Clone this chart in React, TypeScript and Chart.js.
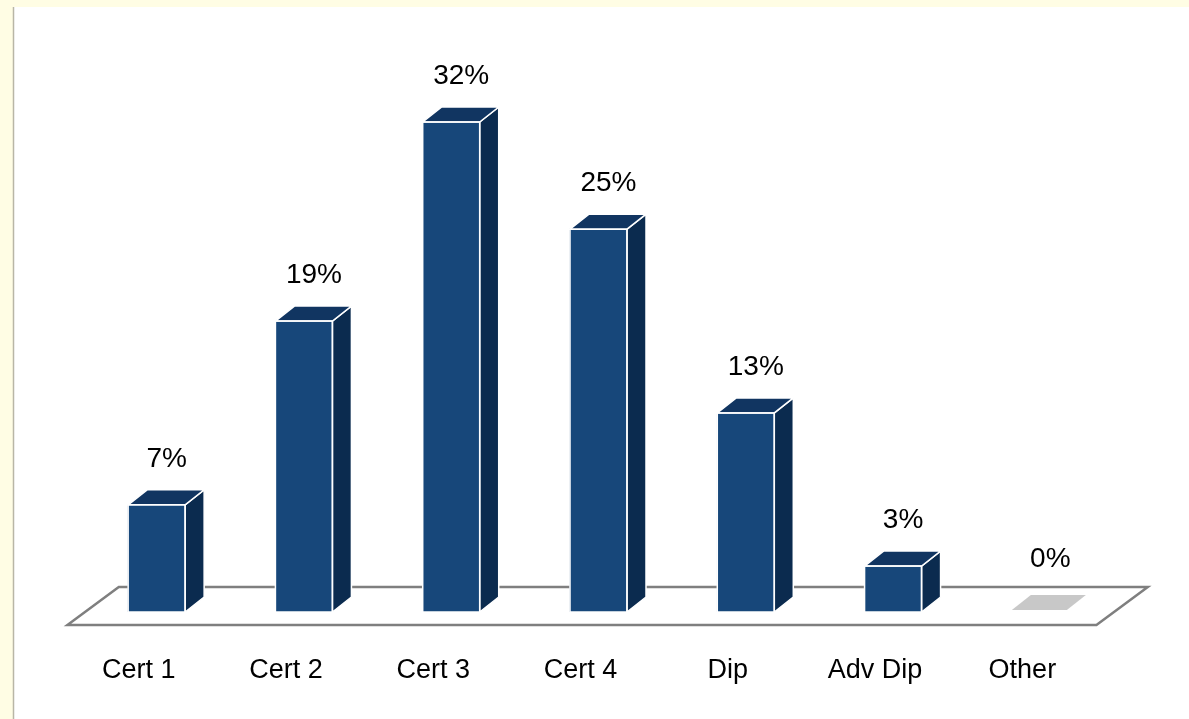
import React, { useEffect, useRef } from "react";
import { Chart, registerables } from "chart.js";

Chart.register(...registerables);

const categories = ["Cert 1", "Cert 2", "Cert 3", "Cert 4", "Dip", "Adv Dip", "Other"];
const values = [7, 19, 32, 25, 13, 3, 0];
const valueLabels = ["7%", "19%", "32%", "25%", "13%", "3%", "0%"];

const FRONT = "#17477A";
const SIDE = "#0B2B4F";
const TOP = "#113561";
const ZERO_TOP = "#C8C8C8";
const FONT = '"Liberation Sans", Arial, sans-serif';

const DEPTH_X = 19;
const DEPTH_Y = 15;

const threeD = {
  id: "threeD",
  beforeDraw(chart: any) {
    const { ctx, width, height } = chart;
    ctx.save();
    ctx.fillStyle = "#FFFDE4";
    ctx.fillRect(0, 0, width, height);
    ctx.fillStyle = "#FFFFFF";
    ctx.fillRect(14, 7, width - 14, height - 7);
    ctx.strokeStyle = "#B9B6A6";
    ctx.lineWidth = 1.5;
    ctx.beginPath();
    ctx.moveTo(13.5, 7);
    ctx.lineTo(13.5, height);
    ctx.stroke();
    ctx.restore();
  },
  beforeDatasetsDraw(chart: any) {
    const { ctx } = chart;
    const xs = chart.scales.x;
    const ys = chart.scales.y;
    const base = ys.getPixelForValue(0);
    const k = 50 / 37;
    const fy = base + 13;
    const by = base - 25;
    const l = xs.left + 2;
    const r = xs.right;
    ctx.save();
    ctx.strokeStyle = "#7F7F7F";
    ctx.lineWidth = 2.5;
    ctx.lineJoin = "miter";
    ctx.beginPath();
    ctx.moveTo(l - 13 * k, fy);
    ctx.lineTo(r - 13 * k, fy);
    ctx.lineTo(r + 25 * k, by);
    ctx.lineTo(l + 25 * k, by);
    ctx.closePath();
    ctx.stroke();
    ctx.restore();
  },
  afterDatasetsDraw(chart: any) {
    const { ctx } = chart;
    const meta = chart.getDatasetMeta(0);
    const xs = chart.scales.x;
    ctx.save();
    meta.data.forEach((bar: any, i: number) => {
      const half = bar.width / 2;
      const x0 = bar.x - half;
      const x1 = bar.x + half;
      const top = bar.y;
      const base = bar.base;
      ctx.lineWidth = 1.5;
      ctx.strokeStyle = "#FFFFFF";
      if (values[i] > 0) {
        ctx.beginPath();
        ctx.moveTo(x1, top);
        ctx.lineTo(x1 + DEPTH_X, top - DEPTH_Y);
        ctx.lineTo(x1 + DEPTH_X, base - DEPTH_Y);
        ctx.lineTo(x1, base);
        ctx.closePath();
        ctx.fillStyle = SIDE;
        ctx.fill();
        ctx.stroke();
        ctx.beginPath();
        ctx.moveTo(x0, top);
        ctx.lineTo(x0 + DEPTH_X, top - DEPTH_Y);
        ctx.lineTo(x1 + DEPTH_X, top - DEPTH_Y);
        ctx.lineTo(x1, top);
        ctx.closePath();
        ctx.fillStyle = TOP;
        ctx.fill();
        ctx.stroke();
        ctx.strokeRect(x0, top, bar.width, base - top);
      } else {
        ctx.beginPath();
        ctx.moveTo(x0, base - 2);
        ctx.lineTo(x0 + DEPTH_X, base - 2 - DEPTH_Y);
        ctx.lineTo(x1 + DEPTH_X - 2, base - 2 - DEPTH_Y);
        ctx.lineTo(x1 - 2, base - 2);
        ctx.closePath();
        ctx.fillStyle = ZERO_TOP;
        ctx.fill();
      }
      ctx.fillStyle = "#000000";
      ctx.font = `28px ${FONT}`;
      ctx.textAlign = "center";
      ctx.textBaseline = "alphabetic";
      const labelBase = values[i] > 0 ? top - DEPTH_Y - 23 : base - DEPTH_Y - 30;
      ctx.fillText(valueLabels[i], bar.x + 10, labelBase);
    });
    ctx.fillStyle = "#000000";
    ctx.font = `27px ${FONT}`;
    ctx.textAlign = "center";
    ctx.textBaseline = "middle";
    categories.forEach((c, i) => {
      ctx.fillText(c, xs.getPixelForValue(i) - 18, 671);
    });
    ctx.restore();
  },
};

export default function App() {
  const ref = useRef<HTMLCanvasElement | null>(null);
  useEffect(() => {
    if (!ref.current) return;
    const chart = new Chart(ref.current, {
      type: "bar",
      data: {
        labels: categories,
        datasets: [
          {
            data: values,
            backgroundColor: values.map((v) => (v > 0 ? FRONT : "rgba(0,0,0,0)")),
            borderWidth: 0,
            barThickness: 57,
          },
        ],
      },
      options: {
        responsive: false,
        animation: false,
        devicePixelRatio: 1,
        layout: { padding: { left: 83, right: 75, top: 122, bottom: 107 } },
        plugins: { legend: { display: false }, tooltip: { enabled: false } },
        scales: {
          x: { display: false, offset: true },
          y: { display: false, min: 0, max: 32 },
        },
      },
      plugins: [threeD],
    });
    return () => chart.destroy();
  }, []);
  return (
    <div style={{ position: "fixed", left: 0, top: 0, width: 1189, height: 719 }}>
      <canvas ref={ref} width={1189} height={719} style={{ display: "block" }} />
    </div>
  );
}
